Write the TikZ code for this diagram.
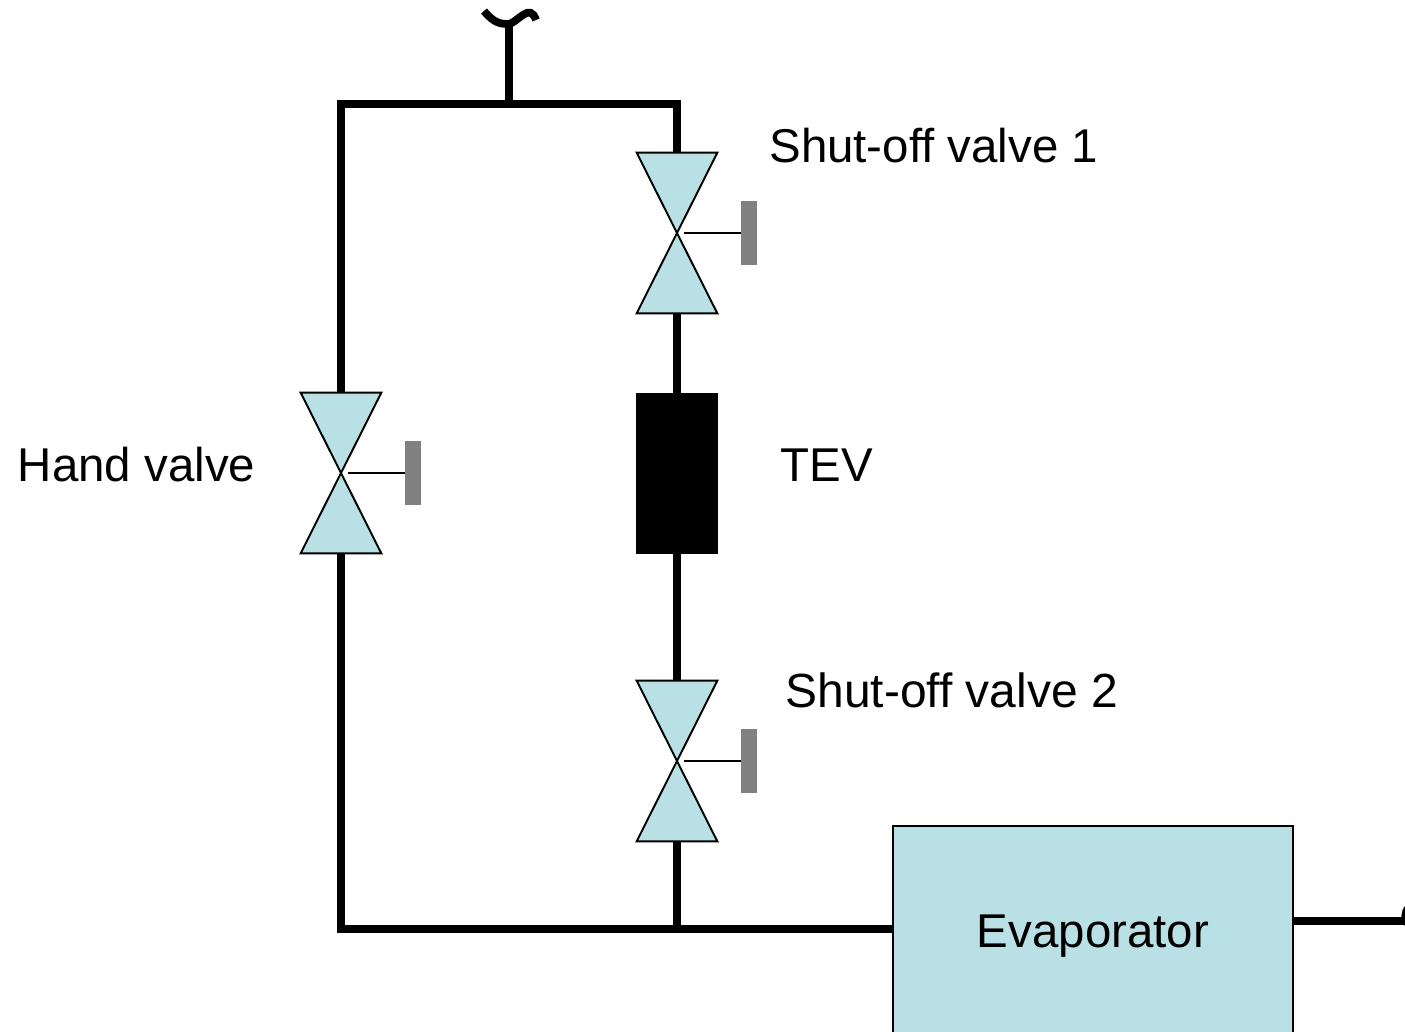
\documentclass[tikz,border=0pt]{standalone}
\usepackage{fontspec}
\setmainfont{Liberation Sans}
\usetikzlibrary{positioning}
\definecolor{valveblue}{HTML}{B9E0E4}
\definecolor{handlegray}{HTML}{808080}

\begin{document}
\begin{tikzpicture}[x=0.02cm, y=-0.02cm, font=\fontsize{27}{32}\selectfont,
  pipe/.style={line width=4.4pt,line join=miter},
  lbl/.style={inner sep=0pt,align=left},
  valvebody/.style={minimum width=1.6cm,minimum height=3.2cm,inner sep=0pt},
  handlebar/.style={fill=handlegray,minimum width=0.32cm,minimum height=1.28cm,inner sep=0pt},
  tevbox/.style={fill=black,minimum width=1.64cm,minimum height=3.22cm,inner sep=0pt},
  evapbox/.style={draw,line width=1.3pt,fill=valveblue,minimum width=8cm,minimum height=4.4cm,inner sep=0pt},
  valve/.pic={
    \node[valvebody] (-body) at (0,0) {};
    \draw[line width=1.1pt,line join=miter,fill=valveblue] (-body.north west) -- (-body.north east)
      -- (-body.south west) -- (-body.south east) -- cycle;
    \node[handlebar] (-bar) at (72,0) {};
    \coordinate (-stem) at (7,0);
    \draw[line width=1.1pt] (-stem) -- (-bar.west);
  }]
  \clip (0,0) rectangle (1405,1031);
  \coordinate (tl) at (341,104);
  \coordinate (tr) at (677,104);
  \coordinate (tm) at (509,104);
  \coordinate (forkc) at (509,24);
  \coordinate (bl) at (341,929);
  \coordinate (br) at (677,929);
  \coordinate (evapin) at (893,929);
  \coordinate (evapout) at (1293,921);
  \coordinate (outend) at (1405,921);

  \pic (hv) at (341,473) {valve};
  \pic (sv1) at (677,233) {valve};
  \pic (sv2) at (677,761) {valve};
  \node[tevbox] (tev) at (677,473.5) {};
  \draw[pipe] (evapin) -- (bl) -- (hv-body.south);
  \draw[pipe] (evapout) -- (outend);
  \node[evapbox] (evap) at (1093,936) {Evaporator};

  \node[lbl,anchor=west] (lblsv1) at (769,146) {Shut-off valve 1};
  \node[lbl,anchor=west] (lblsv2) at (785,690) {\fontsize{27.3}{32}\selectfont Shut-off valve 2};
  \node[lbl,right=1.24cm of tev,yshift=0.16cm] (lbltev) {TEV};
  \node[lbl,left=0.9cm of hv-body,yshift=0.16cm] (lblhv) {Hand valve};

  \draw[pipe] (hv-body.north) -- (tl) -- (tr) -- (sv1-body.north);
  \draw[pipe] (sv1-body.south) -- (tev.north);
  \draw[pipe] (tev.south) -- (sv2-body.north);
  \draw[pipe] (sv2-body.south) -- (br);
  \draw[pipe] (tm) -- (forkc);
  \draw[pipe] (484,11) .. controls (494,23) and (500,24) .. (forkc)
    .. controls (518,22) and (530,2) .. (536,20);
  \draw[pipe] (1409,925) .. controls (1404,919) and (1404,913) .. (1409,907);
\end{tikzpicture}
\end{document}
